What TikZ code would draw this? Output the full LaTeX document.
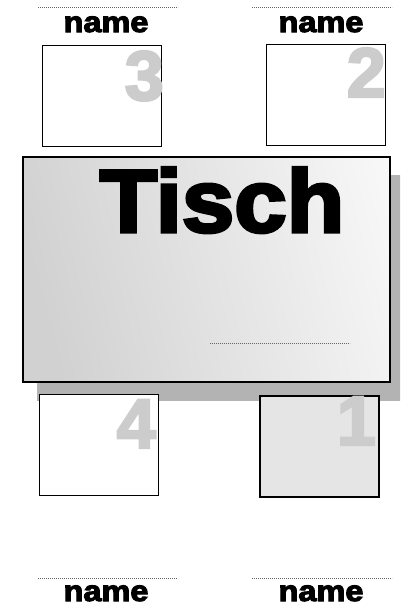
\documentclass[tikz,border=0pt]{standalone}
\usepackage{fontspec}
\newfontfamily\heavy{Liberation Sans Bold}[FakeBold=3.5]
\definecolor{digitgray}{HTML}{CCCCCC}
\definecolor{shadowgray}{HTML}{B3B3B3}
\definecolor{seatfill}{HTML}{E5E5E5}
\pgfdeclarehorizontalshading{tablegrad}{100bp}{color(0bp)=(black!19); color(25bp)=(black!18); color(90bp)=(white); color(100bp)=(white)}
\begin{document}
\begin{tikzpicture}[x=1pt,y=-1pt,
  seat/.style={draw=black,line width=0.8pt,fill=white,minimum width=119pt,minimum height=101pt,inner sep=0pt,anchor=north west},
  digit/.style={text=digitgray,font=\heavy\fontsize{70}{70}\selectfont,inner sep=0pt,anchor=base east},
  nametext/.style={font=\heavy\fontsize{29}{29}\selectfont,inner sep=0pt,anchor=base},
  dots/.style={draw=black!60,line width=0.6pt,dash pattern=on 0.6pt off 1.4pt}]
\clip (0,0) rectangle (400,606);
\fill[white] (0,0) rectangle (400,606);
% top names
\coordinate (tl1) at (38,7); \coordinate (tl2) at (178,7);
\coordinate (tr1) at (252,7); \coordinate (tr2) at (392,7);
\draw[dots] (tl1) -- (tl2);
\draw[dots] (tr1) -- (tr2);
\node[nametext] (name3) at (106,32) {\scalebox{1.12}[1]{name}};
\node[nametext] (name2) at (321,32) {\scalebox{1.12}[1]{name}};
% top seats
\node[seat] (seat3) at (42,45) {};
\node[digit] (d3) at (164,100) {3};
\node[seat] (seat2) at (266,44) {};
\node[digit] (d2) at (386,97) {2};
% table shadow
\fill[shadowgray] (37,175) rectangle (405,401);
% bottom seats
\node[seat] (seat4) at (39,394) {};
\node[digit] (d4) at (156,448) {4};
\node[seat,fill=seatfill,line width=1.5pt] (seat1) at (259,395) {};
\node[digit] (d1) at (376,445) {1};
% table
\node[draw=black,line width=1.5pt,minimum width=367pt,minimum height=225pt,inner sep=0pt,anchor=north west,
  shading=tablegrad,shading angle=15] (tisch) at (22,156) {};
\node[font=\heavy\fontsize{89}{89}\selectfont,inner sep=0pt,anchor=base] (tischtext) at (222,232) {\scalebox{1.06}[1]{Tisch}};
\coordinate (tt1) at (210,343); \coordinate (tt2) at (350,343);
\draw[dots] (tt1) -- (tt2);
% bottom names
\coordinate (bl1) at (38,578); \coordinate (bl2) at (178,578);
\coordinate (br1) at (252,578); \coordinate (br2) at (392,578);
\draw[dots] (bl1) -- (bl2);
\draw[dots] (br1) -- (br2);
\node[nametext] (name4) at (106,601) {\scalebox{1.12}[1]{name}};
\node[nametext] (name1) at (321,601) {\scalebox{1.12}[1]{name}};
\end{tikzpicture}
\end{document}
